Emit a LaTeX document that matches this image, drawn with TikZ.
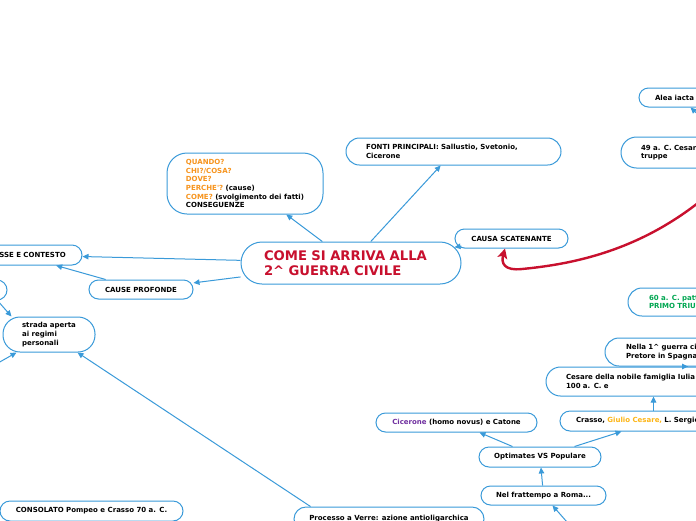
\documentclass[tikz,border=0pt]{standalone}
\usepackage{fontspec}
\setmainfont{DejaVu Sans}
\usetikzlibrary{arrows.meta}
\definecolor{bl}{HTML}{3A9AD9}
\definecolor{crim}{HTML}{C8102E}
\definecolor{org}{HTML}{F7941D}
\definecolor{gold}{HTML}{FDB515}
\definecolor{purp}{HTML}{7030A0}
\definecolor{grn}{HTML}{00A651}
\newcommand\smallfs{\fontsize{7}{8.7}\selectfont\bfseries}
\newcommand\bigfs{\fontsize{13.2}{15}\selectfont\bfseries}
\begin{document}
\begin{tikzpicture}[x=1pt,y=-1pt,
  box/.style={draw=bl, line width=1pt, fill=white, inner sep=0pt, align=left, font=\smallfs, text=black},
  conn/.style={draw=bl, line width=1pt, -{Triangle[length=6pt,width=5.5pt]}},
  redcurve/.style={draw=crim, line width=2.4pt, -{Stealth[length=10pt,width=10pt,inset=2.5pt]}}]
\useasboundingbox (0,0) rectangle (696,520);
\fill[white] (0,0) rectangle (696,520);
\clip (0,0) rectangle (696,520);

% nodes
\node[box, minimum width=220pt, minimum height=42pt, rounded corners=21pt, text width=174pt, font=\bigfs, text=crim] (main) at (351,263) {COME SI ARRIVA ALLA\\2\textasciicircum{} GUERRA CIVILE};
\node[box, minimum width=156pt, minimum height=61pt, rounded corners=20pt] (quando) at (245,183.5)
  {\textcolor{org}{QUANDO?}\\\textcolor{org}{CHI?/COSA?}\\\textcolor{org}{DOVE?}\\\textcolor{org}{PERCHE\textquotesingle?} (cause)\\\textcolor{org}{COME?} (svolgimento dei fatti)\\CONSEGUENZE};
\node[box, minimum width=215pt, minimum height=27pt, rounded corners=13.5pt, text width=175pt] (fonti) at (453.5,151.5) {FONTI PRINCIPALI: Sallustio, Svetonio,\\Cicerone};
\node[box, minimum width=113pt, minimum height=19pt, rounded corners=9.5pt] (causa) at (511.5,238.5) {CAUSA SCATENANTE};
\node[box, minimum width=126pt, minimum height=20pt, rounded corners=10pt] (premesse) at (19,255) {PREMESSE E CONTESTO};
\node[box, minimum width=104pt, minimum height=19pt, rounded corners=9.5pt] (cprof) at (141,289.5) {CAUSE PROFONDE};
\node[box, minimum width=74pt, minimum height=20pt, rounded corners=10pt] (lbox) at (-30,290) {};
\node[box, minimum width=92pt, minimum height=35pt, rounded corners=17pt] (strada) at (49,334.5) {strada aperta\\ai regimi\\personali};
\node[box, minimum width=121pt, minimum height=19pt, rounded corners=9.5pt, text width=89pt] (alea) at (699.5,97.5) {Alea iacta est};
\node[box, minimum width=179pt, minimum height=31pt, rounded corners=15.5pt, text width=139pt] (c49) at (710.5,152.5) {49 a. C. Cesare\\truppe};
\node[box, minimum width=172pt, minimum height=28pt, rounded corners=14pt, text width=130pt, text=grn] (patto) at (714,302) {60 a. C. patto\\PRIMO TRIUMVIRATO};
\node[box, minimum width=195pt, minimum height=28pt, rounded corners=14pt, text width=153pt] (nella) at (702.5,352) {Nella 1\textasciicircum{} guerra civile\\Pretore in Spagna};
\node[box, minimum width=254pt, minimum height=29pt, rounded corners=14.5pt, text width=214pt] (cesare) at (673,381.5) {Cesare della nobile famiglia Iulia\\100 a. C. e};
\node[box, minimum width=240pt, minimum height=20pt, rounded corners=10pt, text width=208pt] (crasso) at (680,421) {Crasso, \textcolor{gold}{Giulio Cesare,} L. Sergio};
\node[box, minimum width=161pt, minimum height=19pt, rounded corners=9.5pt] (cicerone) at (456.5,422.5) {\textcolor{purp}{Cicerone} (homo novus) e Catone};
\node[box, minimum width=122pt, minimum height=20pt, rounded corners=10pt] (optimates) at (540,457) {Optimates VS Populare};
\node[box, minimum width=125pt, minimum height=19pt, rounded corners=9.5pt] (frattempo) at (543.5,495.5) {Nel frattempo a Roma...};
\node[box, minimum width=190pt, minimum height=24pt, rounded corners=12pt] (verre) at (389,519) {Processo a Verre: azione antioligarchica};
\node[box, minimum width=183pt, minimum height=20pt, rounded corners=10pt] (consolato) at (91.5,511) {CONSOLATO Pompeo e Crasso 70 a. C.};

% free ends
\coordinate (l1) at (-3,300);
\coordinate (l2) at (-2,363);
\coordinate (b1) at (567,522);
\coordinate (a1) at (703,119);
\coordinate (r0) at (703,199);

% connectors
\draw[conn] (main) -- (quando);
\draw[conn] (main) -- (fonti);
\draw[conn] (main) -- (premesse);
\draw[conn] (main) -- (cprof);
\draw[conn] (main) -- (causa);
\draw[conn] (cprof) -- (premesse);
\draw[conn] (l1) -- ([xshift=9pt]strada.north west);
\draw[conn] (l2) -- ([xshift=14pt]strada.south west);
\draw[conn] ([xshift=17pt]verre.north west) -- ([xshift=-18pt]strada.south east);
\draw[conn] ([xshift=34pt]optimates.north west) -- ([xshift=104pt]cicerone.south west);
\draw[conn] ([xshift=96pt]optimates.north west) -- ([xshift=62pt]crasso.south west);
\draw[conn] (frattempo) -- (optimates);
\draw[conn] (b1) -- ([xshift=72pt]frattempo.south west);
\draw[conn] ([xshift=94pt]crasso.north west) -- ([xshift=108pt]cesare.south west);
\draw[conn] (cesare) -- (nella);
\draw[conn] (a1) -- ([xshift=52pt]alea.south west);
\draw[redcurve] (r0) .. controls (640,250) and (575,264) .. (522,269) .. controls (504,271) and (501,263) .. ([xshift=-6.5pt]causa.south);
\end{tikzpicture}
\end{document}
